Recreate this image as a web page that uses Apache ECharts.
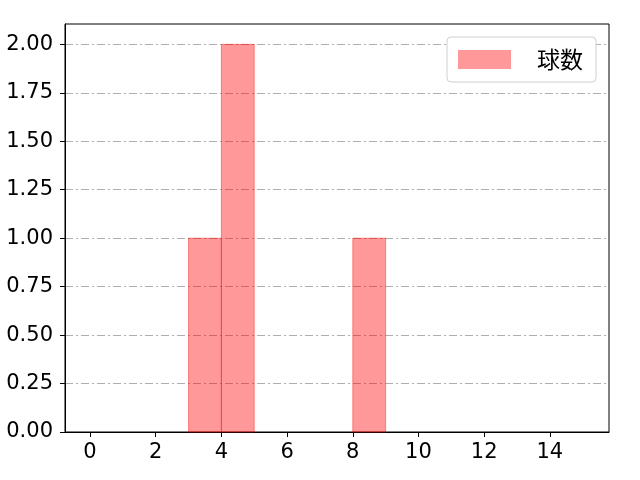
<!DOCTYPE html>
<html>
<head>
<meta charset="utf-8">
<script src="https://cdn.jsdelivr.net/npm/echarts@6/dist/echarts.min.js"></script>
<style>
  html, body { margin: 0; padding: 0; background: #fff; }
  #main { width: 640px; height: 480px; }
</style>
</head>
<body>
<div id="main"></div>
<script>
// histogram bins (left edge, width 1) and counts
var binStarts = [3, 4, 8];
var binCounts = [1, 2, 1];
var binWidth = 1;
var xTicks = [0, 2, 4, 6, 8, 10, 12, 14];
var yTicks = [0, 0.25, 0.5, 0.75, 1, 1.25, 1.5, 1.75, 2];
var seriesName = '球数';

var numFont = '"DejaVu Sans", sans-serif';
var cjkFont = '"Noto Sans CJK JP", sans-serif';
var barFill = 'rgba(255, 0, 0, 0.4)';
var barEdge = 'rgba(255, 0, 0, 0.4)';

var barData = [];
for (var i = 0; i < binStarts.length; i++) {
    barData.push([binStarts[i], binStarts[i] + binWidth, binCounts[i]]);
}

var myChart = echarts.init(document.getElementById('main'));
var option = {
    animation: false,
    backgroundColor: '#fff',
    grid: {
        left: 65, right: 31, top: 24, bottom: 48,
        show: true, borderColor: '#000', borderWidth: 1
    },
    legend: {
        left: 447, top: 37,
        padding: [11, 13, 11, 11],
        itemWidth: 53, itemHeight: 19,
        icon: 'rect',
        backgroundColor: '#fff',
        borderColor: '#d0d0d0', borderWidth: 1, borderRadius: 4,
        textStyle: { fontFamily: cjkFont, fontSize: 23, color: '#000', padding: [0, 0, 0, 21] },
        data: [seriesName]
    },
    xAxis: {
        type: 'value',
        min: -0.76, max: 15.8,
        axisLine: { show: true, onZero: false, lineStyle: { color: '#000', width: 1 } },
        axisTick: { show: true, length: 5, customValues: xTicks, lineStyle: { color: '#000' } },
        axisLabel: {
            customValues: xTicks, color: '#000', fontFamily: numFont, fontSize: 21, margin: 10
        },
        splitLine: { show: false }
    },
    yAxis: {
        type: 'value',
        min: 0, max: 2.105,
        axisLine: { show: true, onZero: false, lineStyle: { color: '#000', width: 1 } },
        axisTick: { show: true, length: 5, customValues: yTicks, lineStyle: { color: '#000' } },
        axisLabel: {
            customValues: yTicks, color: '#000', fontFamily: numFont, fontSize: 21, margin: 12,
            formatter: function (v) { return v.toFixed(2); }
        },
        splitLine: {
            show: true,
            customValues: yTicks,
            lineStyle: { color: '#b0b0b0', width: 1, type: [8, 3, 2, 3] }
        }
    },
    series: [{
        name: seriesName,
        type: 'custom',
        itemStyle: { color: barFill },
        encode: { x: [0, 1], y: 2 },
        renderItem: function (params, api) {
            var p0 = api.coord([api.value(0), api.value(2)]);
            var p1 = api.coord([api.value(1), 0]);
            return {
                type: 'rect',
                shape: { x: p0[0], y: p0[1], width: p1[0] - p0[0], height: p1[1] - p0[1] },
                style: { fill: barFill, stroke: barEdge, lineWidth: 1 }
            };
        },
        data: barData
    }]
};
myChart.setOption(option);
</script>
</body>
</html>
